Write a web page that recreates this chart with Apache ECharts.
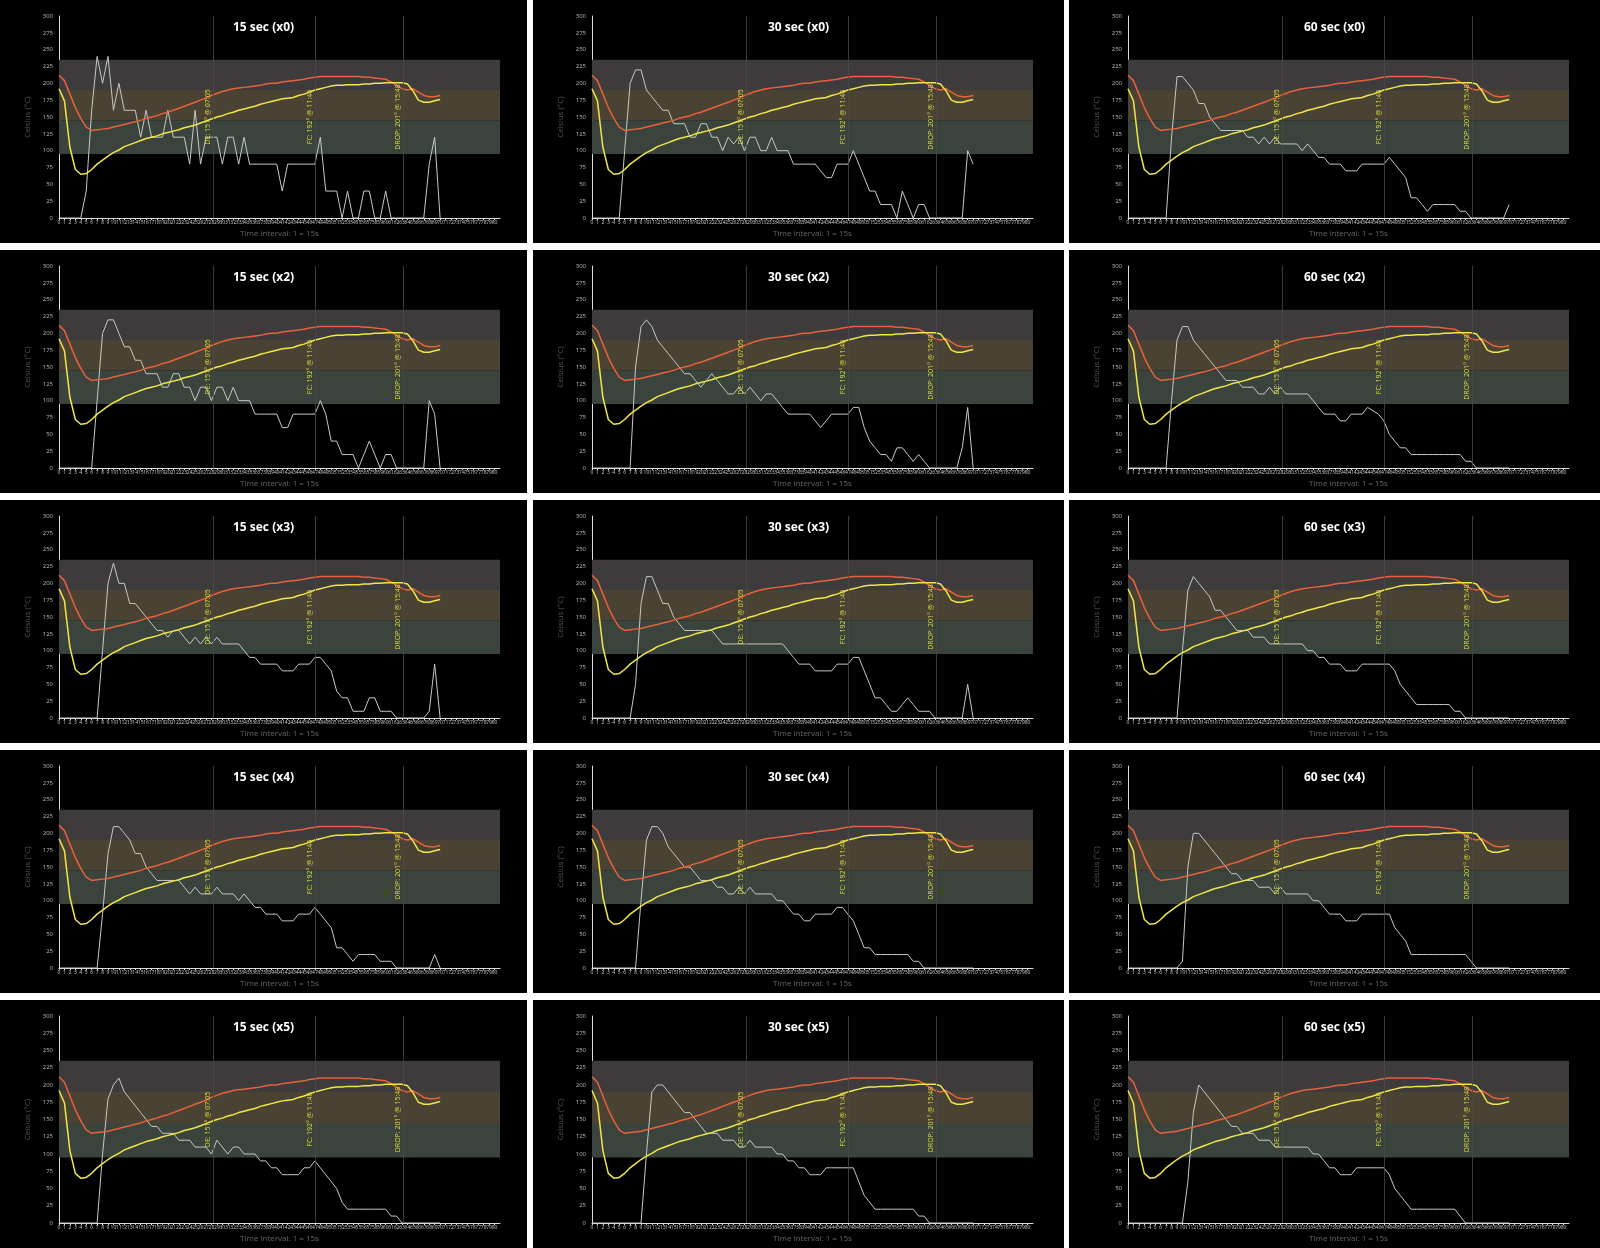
<!DOCTYPE html>
<html>
<head>
<meta charset="utf-8">
<script src="https://cdn.jsdelivr.net/npm/echarts@6/dist/echarts.min.js"></script>
<style>
body { margin: 0; background: #fff; width: 1600px; height: 1248px; position: relative; overflow: hidden; }
.panel { position: absolute; background: #000; }
</style>
</head>
<body>
<div id="wrap"></div>
<script>
// bean temperature (yellow), index = time interval (1 = 15s)
var beanTemp = [
  192, 174, 105, 72, 65, 66, 72, 80, 86, 92,
  97, 101, 106, 109, 112, 115, 118, 120, 122, 125,
  127, 129, 131, 134, 136, 138, 141, 144, 147, 150,
  152, 155, 157, 160, 162, 164, 166, 169, 171, 173,
  175, 177, 178, 179, 182, 184, 187, 190, 192, 194,
  196, 197, 197, 198, 198, 198, 199, 199, 200, 200,
  201, 201, 201, 201, 199, 189, 175, 172, 172, 174, 176
];
// environment temperature (red)
var envTemp = [
  212, 204, 184, 164, 148, 135, 130, 131, 132, 133,
  135, 137, 139, 141, 143, 145, 148, 150, 152, 155,
  157, 160, 163, 166, 169, 172, 175, 178, 182, 185,
  188, 190, 192, 193, 194, 195, 196, 197, 199, 200,
  200, 202, 203, 204, 205, 206, 208, 209, 210, 210,
  210, 210, 210, 210, 210, 210, 209, 209, 208, 207,
  206, 202, 197, 192, 190, 192, 187, 182, 180, 180, 182
];

// rate-of-rise curves (white), one per panel
var ror15x0 = [
  0, 0, 0, 0, 0, 40, 160, 240, 200, 240,
  160, 200, 160, 160, 160, 120, 160, 120, 120, 120,
  160, 120, 120, 120, 80, 160, 80, 120, 120, 120,
  80, 120, 120, 80, 120, 80, 80, 80, 80, 80,
  80, 40, 80, 80, 80, 80, 80, 80, 120, 40,
  40, 40, 0, 40, 0, 0, 40, 40, 0, 0,
  40, 0, 0, 0, 0, 0, 0, 0, 80, 120, 0
];
var ror30x0 = [
  0, 0, 0, 0, 0, 0, 100, 200, 220, 220,
  190, 180, 170, 160, 160, 140, 140, 140, 120, 120,
  140, 140, 120, 120, 100, 120, 110, 120, 100, 120,
  120, 100, 100, 120, 100, 100, 100, 80, 80, 80,
  80, 80, 70, 60, 60, 80, 80, 80, 100, 80,
  60, 40, 40, 20, 20, 20, 0, 40, 20, 0,
  20, 20, 0, 0, 0, 0, 0, 0, 0, 100, 80
];
var ror60x0 = [
  0, 0, 0, 0, 0, 0, 0, 0, 120, 210,
  210, 200, 190, 170, 170, 150, 140, 130, 130, 130,
  130, 130, 120, 120, 110, 120, 110, 120, 110, 110,
  110, 110, 100, 110, 100, 90, 90, 80, 80, 80,
  70, 70, 70, 80, 80, 80, 80, 80, 90, 80,
  70, 60, 30, 30, 20, 10, 20, 20, 20, 20,
  20, 10, 10, 0, 0, 0, 0, 0, 0, 0, 20
];
var ror15x2 = [
  0, 0, 0, 0, 0, 0, 0, 100, 200, 220,
  220, 200, 180, 180, 160, 160, 140, 140, 140, 120,
  120, 140, 140, 120, 120, 100, 120, 120, 100, 120,
  120, 100, 120, 100, 100, 100, 80, 80, 80, 80,
  80, 60, 60, 80, 80, 80, 80, 80, 100, 80,
  40, 40, 20, 20, 20, 0, 20, 40, 20, 0,
  20, 20, 0, 0, 0, 0, 0, 0, 100, 80, 0
];
var ror30x2 = [
  0, 0, 0, 0, 0, 0, 0, 0, 150, 210,
  220, 210, 190, 180, 170, 160, 150, 140, 140, 130,
  120, 130, 140, 130, 120, 110, 110, 120, 110, 120,
  110, 100, 110, 110, 100, 90, 80, 80, 80, 80,
  80, 70, 60, 70, 80, 80, 80, 80, 90, 90,
  60, 40, 30, 20, 20, 10, 30, 30, 20, 10,
  20, 10, 0, 0, 0, 0, 0, 0, 30, 90, 0
];
var ror60x2 = [
  0, 0, 0, 0, 0, 0, 0, 0, 100, 190,
  210, 210, 190, 180, 170, 160, 150, 140, 130, 130,
  130, 120, 120, 120, 110, 110, 120, 110, 120, 110,
  110, 110, 110, 110, 100, 90, 80, 80, 80, 70,
  70, 80, 80, 80, 90, 85, 80, 70, 50, 40,
  30, 30, 20, 20, 20, 20, 20, 20, 20, 20,
  20, 20, 10, 10, 0, 0, 0, 0, 0, 0, 0
];
var ror15x3 = [
  0, 0, 0, 0, 0, 0, 0, 0, 100, 200,
  230, 200, 200, 170, 170, 160, 150, 140, 130, 130,
  120, 130, 130, 120, 110, 120, 110, 120, 110, 120,
  110, 110, 110, 110, 100, 90, 90, 80, 80, 80,
  80, 70, 70, 70, 80, 80, 80, 90, 90, 80,
  70, 40, 30, 30, 10, 10, 10, 30, 30, 10,
  10, 10, 0, 0, 0, 0, 0, 0, 10, 80, 0
];
var ror30x3 = [
  0, 0, 0, 0, 0, 0, 0, 0, 50, 170,
  210, 210, 190, 170, 170, 150, 140, 130, 130, 130,
  130, 130, 130, 120, 110, 110, 110, 110, 110, 110,
  110, 110, 110, 110, 110, 110, 100, 90, 80, 80,
  80, 70, 70, 70, 70, 80, 80, 80, 90, 90,
  70, 50, 30, 30, 20, 10, 10, 20, 30, 20,
  10, 10, 10, 0, 0, 0, 0, 0, 0, 50, 0
];
var ror60x3 = [
  0, 0, 0, 0, 0, 0, 0, 0, 0, 0,
  100, 190, 210, 200, 190, 180, 160, 160, 150, 140,
  130, 130, 130, 120, 120, 120, 110, 110, 110, 110,
  110, 110, 110, 100, 100, 90, 90, 80, 80, 80,
  70, 70, 70, 80, 80, 80, 80, 80, 80, 70,
  50, 40, 30, 20, 20, 20, 20, 20, 20, 20,
  10, 10, 0, 0, 0, 0, 0, 0, 0, 0, 0
];
var ror15x4 = [
  0, 0, 0, 0, 0, 0, 0, 0, 80, 170,
  210, 210, 200, 190, 170, 170, 150, 140, 130, 130,
  130, 130, 130, 120, 110, 120, 110, 110, 110, 120,
  110, 110, 110, 100, 110, 100, 90, 90, 80, 80,
  80, 70, 70, 70, 80, 80, 80, 90, 80, 70,
  60, 30, 30, 20, 10, 20, 20, 20, 20, 10,
  10, 10, 0, 0, 0, 0, 0, 0, 0, 20, 0
];
var ror30x4 = [
  0, 0, 0, 0, 0, 0, 0, 0, 0, 100,
  190, 210, 210, 200, 180, 170, 160, 150, 150, 140,
  130, 130, 130, 120, 120, 110, 110, 120, 110, 120,
  110, 110, 110, 110, 100, 100, 90, 80, 80, 70,
  70, 80, 80, 80, 80, 90, 90, 80, 70, 50,
  30, 30, 20, 20, 20, 20, 20, 20, 20, 10,
  10, 0, 0, 0, 0, 0, 0, 0, 0, 0, 0
];
var ror60x4 = [
  0, 0, 0, 0, 0, 0, 0, 0, 0, 0,
  10, 150, 200, 200, 190, 180, 170, 160, 150, 140,
  140, 130, 130, 130, 120, 120, 120, 110, 120, 110,
  110, 110, 110, 110, 100, 100, 90, 80, 80, 80,
  70, 70, 70, 80, 80, 80, 80, 80, 80, 60,
  50, 40, 20, 20, 20, 20, 20, 20, 20, 20,
  20, 20, 20, 10, 0, 0, 0, 0, 0, 0, 0
];
var ror15x5 = [
  0, 0, 0, 0, 0, 0, 0, 0, 100, 180,
  200, 210, 190, 180, 170, 160, 150, 140, 140, 130,
  130, 130, 120, 120, 120, 110, 110, 110, 100, 120,
  110, 100, 110, 110, 100, 100, 100, 90, 90, 80,
  80, 70, 70, 70, 70, 80, 80, 90, 80, 70,
  60, 50, 30, 20, 20, 20, 20, 20, 20, 20,
  20, 10, 10, 0, 0, 0, 0, 0, 0, 0, 0
];
var ror30x5 = [
  0, 0, 0, 0, 0, 0, 0, 0, 0, 0,
  100, 190, 200, 200, 190, 180, 170, 160, 160, 150,
  140, 130, 130, 130, 120, 120, 120, 110, 110, 120,
  110, 110, 110, 110, 100, 100, 90, 90, 80, 80,
  70, 70, 70, 80, 80, 80, 80, 80, 80, 60,
  40, 30, 20, 20, 20, 20, 20, 20, 20, 20,
  10, 10, 0, 0, 0, 0, 0, 0, 0, 0, 0
];
var ror60x5 = [
  0, 0, 0, 0, 0, 0, 0, 0, 0, 0,
  0, 60, 160, 200, 190, 180, 170, 160, 150, 140,
  140, 130, 130, 130, 120, 120, 120, 110, 110, 110,
  110, 110, 110, 110, 100, 100, 90, 80, 80, 70,
  70, 70, 80, 80, 80, 80, 80, 80, 70, 50,
  40, 30, 20, 20, 20, 20, 20, 20, 20, 20,
  20, 10, 0, 0, 0, 0, 0, 0, 0, 0, 0
];

var titles = [
  '15 sec (x0)', '30 sec (x0)', '60 sec (x0)',
  '15 sec (x2)', '30 sec (x2)', '60 sec (x2)',
  '15 sec (x3)', '30 sec (x3)', '60 sec (x3)',
  '15 sec (x4)', '30 sec (x4)', '60 sec (x4)',
  '15 sec (x5)', '30 sec (x5)', '60 sec (x5)'
];
var rors = [
  ror15x0, ror30x0, ror60x0,
  ror15x2, ror30x2, ror60x2,
  ror15x3, ror30x3, ror60x3,
  ror15x4, ror30x4, ror60x4,
  ror15x5, ror30x5, ror60x5
];
// milestones: interval position and label
var eventPos = [28.33, 47.07, 63.2];
var eventLabels = ['DE: 151° @ 07:05', 'FC: 192° @ 11:46', 'DROP: 201° @ 15:48'];
// roasting bands
var bandLimits = [[95, 145], [145, 190], [190, 235]];
var bandColors = ['#3a443d', '#4a4334', '#3d3b3b'];

var colX = [0, 533, 1069], colW = [527, 531, 531];
var rowY = [0, 250, 500, 750, 1000], rowH = 243;

function pairs(arr) {
  var out = [];
  for (var i = 0; i < arr.length; i++) out.push([i, arr[i]]);
  return out;
}

var wrap = document.getElementById('wrap');
for (var p = 0; p < 15; p++) {
  var r = Math.floor(p / 3), c = p % 3;
  var div = document.createElement('div');
  div.className = 'panel';
  div.style.left = colX[c] + 'px';
  div.style.top = rowY[r] + 'px';
  div.style.width = colW[c] + 'px';
  div.style.height = (r == 4 ? 248 : rowH) + 'px';
  wrap.appendChild(div);

  var chart = echarts.init(div);
  var areas = [];
  for (var b = 0; b < bandLimits.length; b++) {
    areas.push([{ yAxis: bandLimits[b][0], itemStyle: { color: bandColors[b], opacity: 1 } }, { yAxis: bandLimits[b][1] }]);
  }
  var lines = [];
  for (var e = 0; e < eventPos.length; e++) {
    lines.push({ xAxis: eventPos[e], label: { formatter: eventLabels[e] } });
  }
  var option = {
    backgroundColor: '#000',
    animation: false,
    textStyle: { fontFamily: 'Open Sans' },
    title: {
      text: titles[p], left: 'center', top: 17,
      textStyle: { color: '#fff', fontSize: 12, fontWeight: 'bold', fontFamily: 'Open Sans' }
    },
    grid: { left: 59, right: colW[c] - 500, top: 16, bottom: 22 },
    xAxis: {
      type: 'value', min: 0, max: 81, interval: 1,
      name: 'Time interval: 1 = 15s', nameLocation: 'middle', nameGap: 12,
      nameTextStyle: { color: '#666', fontSize: 8 },
      axisLine: { lineStyle: { color: '#ddd', width: 1 } },
      axisTick: { length: 2, lineStyle: { color: '#ddd' } },
      axisLabel: { color: '#ccc', fontSize: 5, margin: 2, hideOverlap: false },
      splitLine: { show: false }
    },
    yAxis: {
      type: 'value', min: 0, max: 300, interval: 25,
      name: 'Celsius (°C)', nameLocation: 'middle', nameGap: 22,
      nameTextStyle: { color: '#555', fontSize: 8 },
      axisLine: { show: true, lineStyle: { color: '#ddd' } },
      axisTick: { show: false },
      axisLabel: { color: '#bbb', fontSize: 6, margin: 6 },
      splitLine: { show: false }
    },
    series: [
      {
        name: 'bands', type: 'line', data: [], silent: true,
        markArea: { silent: true, data: areas },
        markLine: {
          silent: true, symbol: 'none',
          lineStyle: { color: '#4a4a4a', type: 'solid', width: 0.8 },
          label: { color: '#e0dc3c', fontSize: 7, position: 'middle', distance: 2 },
          data: lines
        }
      },
      { name: 'ROR', type: 'line', data: pairs(rors[p]), symbol: 'none', lineStyle: { color: '#c8c8c8', width: 1 } },
      { name: 'ET', type: 'line', data: pairs(envTemp), symbol: 'none', lineStyle: { color: '#e8603c', width: 1.5 } },
      { name: 'BT', type: 'line', data: pairs(beanTemp), symbol: 'none', lineStyle: { color: '#f0e64a', width: 1.5 } }
    ]
  };
  chart.setOption(option);
}
</script>
</body>
</html>
